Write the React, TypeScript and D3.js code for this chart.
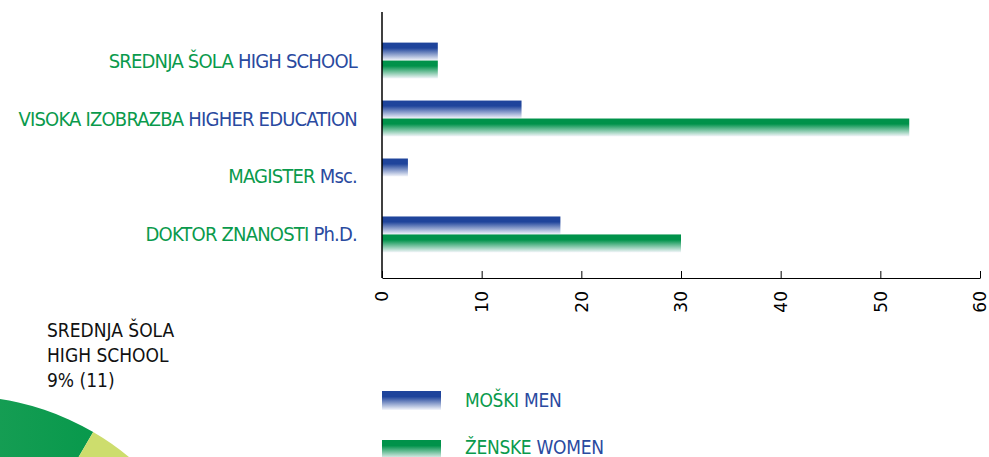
import React, { useRef, useEffect } from "react";
import * as d3 from "d3";

const categories = ["SREDNJA ŠOLA", "VISOKA IZOBRAZBA", "MAGISTER", "DOKTOR ZNANOSTI"];
const categoriesEn = ["HIGH SCHOOL", "HIGHER EDUCATION", "Msc.", "Ph.D."];
const men = [5.6, 14, 2.6, 17.9];
const women = [5.6, 52.9, 0, 30];
const ticks = [0, 10, 20, 30, 40, 50, 60];
const pieNames = ["VISOKA IZOBRAZBA", "SREDNJA ŠOLA", "MAGISTER", "DOKTOR ZNANOSTI"];
const pieValues = [67, 11, 3, 48];
const legendSl = ["MOŠKI", "ŽENSKE"];
const legendEn = ["MEN", "WOMEN"];

const GREEN = "#0a9a4c";
const BLUE = "#2a4a9f";
const FONT = "'Liberation Sans Narrow', 'DejaVu Sans Condensed', 'Roboto', sans-serif";

const App = () => {
  const ref = useRef<SVGSVGElement>(null);
  const width = 989;
  const height = 457;

  useEffect(() => {
    const svg = d3.select(ref.current);
    svg.selectAll("*").remove();

    const defs = svg.append("defs");
    const grad = (id: string, color: string) => {
      const g = defs.append("linearGradient").attr("id", id)
        .attr("x1", 0).attr("y1", 0).attr("x2", 0).attr("y2", 1);
      g.append("stop").attr("offset", "0%").attr("stop-color", color);
      g.append("stop").attr("offset", "30%").attr("stop-color", color);
      g.append("stop").attr("offset", "100%").attr("stop-color", "#f4f6fb");
    };
    grad("gBlue", "#1f449b");
    grad("gGreen", "#00924a");
    const pg = defs.append("linearGradient").attr("id", "pieGreen")
      .attr("x1", 0).attr("y1", 0).attr("x2", 1).attr("y2", 0);
    pg.append("stop").attr("offset", "0%").attr("stop-color", "#3faa6a");
    pg.append("stop").attr("offset", "100%").attr("stop-color", "#08994c");

    const x = d3.scaleLinear().domain([0, 60]).range([382, 980]);
    const y = d3.scaleBand().domain(categories).range([31, 264]).paddingInner(0.38).paddingOuter(0.2);
    const bh = y.bandwidth() / 2;

    // bars
    const g = svg.append("g");
    categories.forEach((c, i) => {
      if (men[i] > 0)
        g.append("rect").attr("x", x(0)).attr("y", y(c)!).attr("width", x(men[i]) - x(0))
          .attr("height", bh).attr("fill", "url(#gBlue)");
      if (women[i] > 0)
        g.append("rect").attr("x", x(0)).attr("y", y(c)! + bh).attr("width", x(women[i]) - x(0))
          .attr("height", bh).attr("fill", "url(#gGreen)");
      const t = g.append("text").attr("x", 357).attr("y", y(c)! + bh + 7)
        .attr("text-anchor", "end").attr("font-family", FONT).attr("font-size", 20)
        .attr("letter-spacing", -0.8);
      t.append("tspan").attr("fill", GREEN).text(c + " ");
      t.append("tspan").attr("fill", BLUE).text(categoriesEn[i]);
    });

    // axes
    svg.append("line").attr("x1", 382).attr("x2", 382).attr("y1", 12).attr("y2", 278)
      .attr("stroke", "#000").attr("stroke-width", 1.5);
    const ax = svg.append("g").attr("transform", "translate(0,278)")
      .call(d3.axisBottom(x).tickValues(ticks).tickSize(-7).tickPadding(0).tickSizeOuter(0));
    ax.select(".domain").attr("stroke", "#000").attr("stroke-width", 1.2);
    ax.selectAll(".tick line").attr("stroke", "#000");
    ax.selectAll(".tick text")
      .attr("font-family", "'DejaVu Sans', sans-serif").attr("font-size", 17).attr("fill", "#000")
      .attr("text-anchor", "end").attr("dy", "0.35em")
      .attr("transform", "translate(0,13) rotate(-90)").attr("x", 0).attr("y", 0);

    // pie
    const total = d3.sum(pieValues);
    const start = (30.3 / 180) * Math.PI - (pieValues[0] / total) * 2 * Math.PI;
    const pie = d3.pie<number>().sort(null).startAngle(start).endAngle(start + 2 * Math.PI);
    const arc = d3.arc<d3.PieArcDatum<number>>().innerRadius(0).outerRadius(264);
    const pieColors = ["url(#pieGreen)", "#cddd6d", "#9acb6b", "#1f7a45"];
    svg.append("g").attr("transform", "translate(-40,660)")
      .selectAll("path").data(pie(pieValues)).enter().append("path")
      .attr("d", arc as any).attr("fill", (d, i) => pieColors[i]);
    const pl = svg.append("text").attr("font-family", FONT).attr("font-size", 19).attr("fill", "#111");
    [pieNames[1], "HIGH SCHOOL", `${Math.round((pieValues[1] / total) * 100)}% (${pieValues[1]})`].forEach((s, i) => {
      pl.append("tspan").attr("x", 47).attr("y", 337 + i * 25).text(s);
    });

    // legend
    const fills = ["url(#gBlue)", "url(#gGreen)"];
    legendSl.forEach((s, i) => {
      const ly = 391 + i * 49;
      svg.append("rect").attr("x", 382).attr("y", ly).attr("width", 59).attr("height", 19).attr("fill", fills[i]);
      const t = svg.append("text").attr("x", 465).attr("y", ly + 16 - i * 2).attr("font-family", FONT)
        .attr("font-size", 19).attr("letter-spacing", -0.3);
      t.append("tspan").attr("fill", GREEN).text(s + " ");
      t.append("tspan").attr("fill", BLUE).text(legendEn[i]);
    });
  });

  return (
    <svg ref={ref} width={width} height={height}
      style={{ position: "absolute", left: 0, top: 0, background: "#fff" }}></svg>
  );
};

export default App;
